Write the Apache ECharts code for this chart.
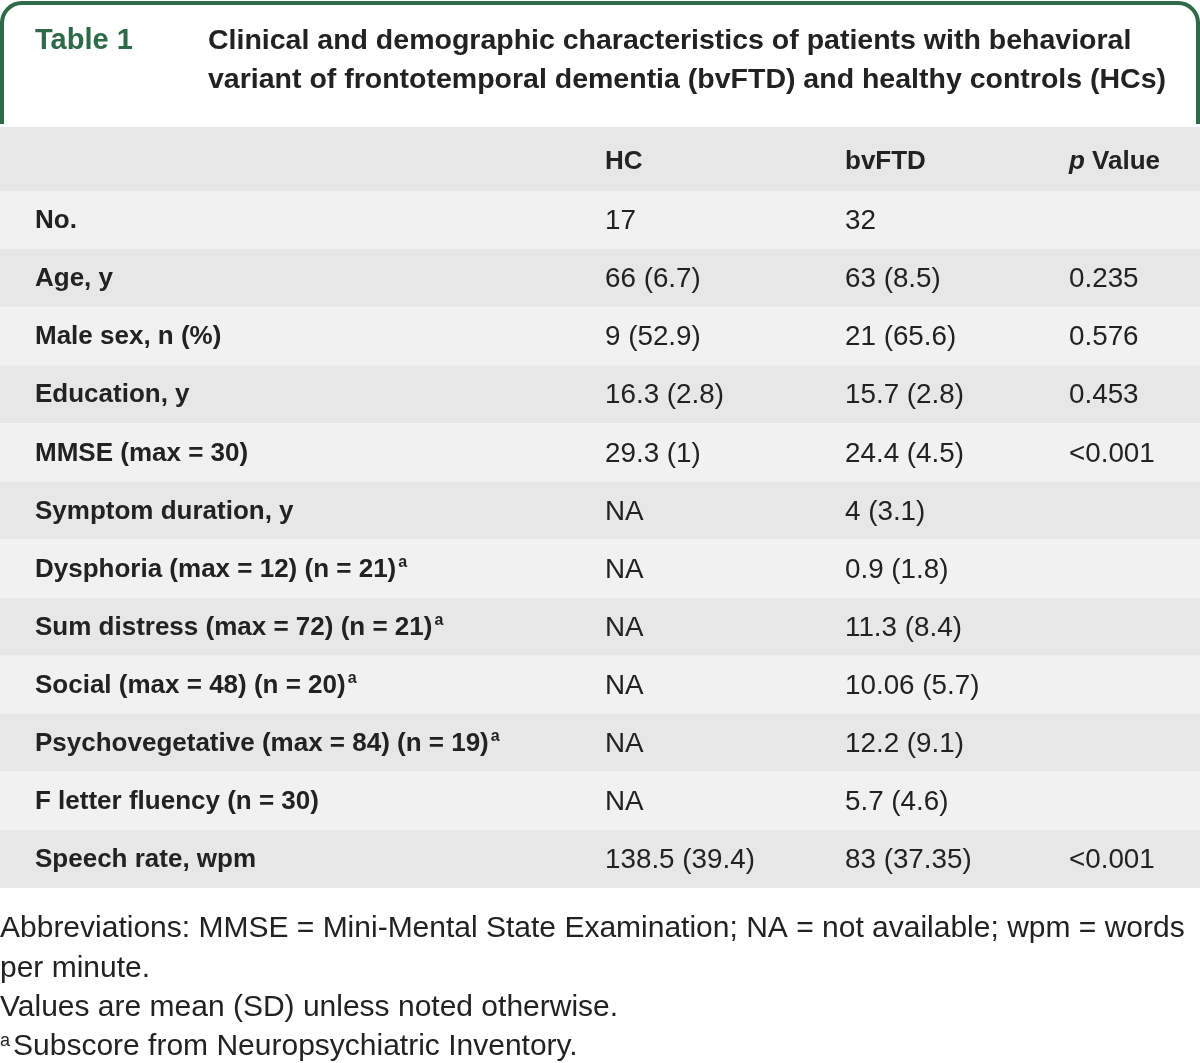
<!DOCTYPE html>
<html><head><meta charset="utf-8">
<script src="https://cdn.jsdelivr.net/npm/echarts@6/dist/echarts.min.js"></script>
<style>html,body{margin:0;padding:0;background:#fff}#chart{width:1200px;height:1063px}</style>
</head><body><div id="chart"></div>
<script>
// ---- data ----
const tableLabel = 'Table 1';
const titleLines = [
  'Clinical and demographic characteristics of patients with behavioral',
  'variant of frontotemporal dementia (bvFTD) and healthy controls (HCs)'
];
const columnHeaders = ['HC', 'bvFTD', 'p Value'];
const rowLabels = [
  'No.', 'Age, y', 'Male sex, n (%)', 'Education, y', 'MMSE (max = 30)',
  'Symptom duration, y', 'Dysphoria (max = 12) (n = 21)', 'Sum distress (max = 72) (n = 21)',
  'Social (max = 48) (n = 20)', 'Psychovegetative (max = 84) (n = 19)',
  'F letter fluency (n = 30)', 'Speech rate, wpm'
];
const rowFootnoteMarks = ['', '', '', '', '', '', 'a', 'a', 'a', 'a', '', ''];
const hcValues = ['17', '66 (6.7)', '9 (52.9)', '16.3 (2.8)', '29.3 (1)', 'NA', 'NA', 'NA', 'NA', 'NA', 'NA', '138.5 (39.4)'];
const bvftdValues = ['32', '63 (8.5)', '21 (65.6)', '15.7 (2.8)', '24.4 (4.5)', '4 (3.1)', '0.9 (1.8)', '11.3 (8.4)', '10.06 (5.7)', '12.2 (9.1)', '5.7 (4.6)', '83 (37.35)'];
const pValues = ['', '0.235', '0.576', '0.453', '<0.001', '', '', '', '', '', '', '<0.001'];
const footnoteLines = [
  'Abbreviations: MMSE = Mini-Mental State Examination; NA = not available; wpm = words',
  'per minute.',
  'Values are mean (SD) unless noted otherwise.'
];
const footnoteMark = 'a';
const footnoteMarkText = 'Subscore from Neuropsychiatric Inventory.';

// ---- layout / style ----
const FONT = '"Liberation Sans", Arial, sans-serif';
const GREEN = '#2d6a47';
const TEXT = '#222222';
const colX = [605, 845, 1069];
const valueColumns = [hcValues, bvftdValues, pValues];

const cells = [];
rowLabels.forEach((_, r) => {
  valueColumns.forEach((col, c) => {
    if (col[r] !== '') cells.push({ value: [c, r], text: col[r] });
  });
});

const chart = echarts.init(document.getElementById('chart'), null, { renderer: 'canvas' });

const graphics = [];
// border
const bw = 4;
graphics.push(
  { type: 'line', shape: { x1: 2, y1: 22, x2: 2, y2: 124 }, style: { stroke: GREEN, lineWidth: bw } },
  { type: 'line', shape: { x1: 22, y1: 3, x2: 1178, y2: 3 }, style: { stroke: GREEN, lineWidth: bw } },
  { type: 'line', shape: { x1: 1198, y1: 22, x2: 1198, y2: 124 }, style: { stroke: GREEN, lineWidth: bw } },
  { type: 'arc', shape: { cx: 22, cy: 23, r: 20, startAngle: Math.PI, endAngle: Math.PI * 1.5 }, style: { stroke: GREEN, lineWidth: bw, fill: null } },
  { type: 'arc', shape: { cx: 1178, cy: 23, r: 20, startAngle: Math.PI * 1.5, endAngle: Math.PI * 2 }, style: { stroke: GREEN, lineWidth: bw, fill: null } }
);
// title
graphics.push({ type: 'text', x: 35, y: 41, style: { text: tableLabel, fill: GREEN, font: 'bold 29px ' + FONT, verticalAlign: 'middle' } });
titleLines.forEach((t, i) => {
  graphics.push({ type: 'text', x: 208, y: 41 + i * 39, style: { text: t, fill: TEXT, font: 'bold 28.5px ' + FONT, verticalAlign: 'middle' } });
});
// header band
graphics.push({ type: 'rect', shape: { x: 0, y: 127, width: 1200, height: 64 }, style: { fill: '#e6e7e6' }, z: -1 });
columnHeaders.forEach((h, i) => {
  const txt = h.startsWith('p ') ? '{i|p}{b|' + h.slice(1) + '}' : '{b|' + h + '}';
  graphics.push({
    type: 'text', x: colX[i], y: 162,
    style: {
      text: txt, verticalAlign: 'middle', align: 'left',
      rich: {
        b: { font: 'bold 26px ' + FONT, fill: TEXT },
        i: { font: 'italic bold 26px ' + FONT, fill: TEXT }
      }
    }
  });
});
// footnotes
footnoteLines.forEach((t, i) => {
  graphics.push({ type: 'text', x: 0, y: 929 + i * 39.5, style: { text: t, fill: TEXT, font: '30px ' + FONT, verticalAlign: 'middle' } });
});
graphics.push({
  type: 'text', x: 0, y: 1047,
  style: {
    text: '{s|' + footnoteMark + '}{t|' + footnoteMarkText + '}', verticalAlign: 'middle',
    rich: {
      s: { font: '18px ' + FONT, fill: TEXT, verticalAlign: 'top', padding: [0, 3, 12, 0] },
      t: { font: '30px ' + FONT, fill: TEXT }
    }
  }
});

chart.setOption({
  animation: false,
  backgroundColor: '#ffffff',
  grid: { left: 0, right: 0, top: 191, bottom: 175 },
  xAxis: { type: 'value', min: 0, max: 1200, show: false },
  yAxis: {
    type: 'category', data: rowLabels, inverse: true,
    axisLine: { show: false }, axisTick: { show: false }, splitLine: { show: false },
    splitArea: { show: true, areaStyle: { color: ['#f1f1f1', '#e6e7e6'] } },
    axisLabel: {
      inside: true, margin: 35, align: 'left', padding: [2, 0, 0, 0],
      formatter: (v, i) => rowFootnoteMarks[i] ? '{b|' + v + '}{s|' + rowFootnoteMarks[i] + '}' : '{b|' + v + '}',
      rich: {
        b: { fontFamily: FONT, fontWeight: 'bold', fontSize: 26, color: TEXT },
        s: { fontFamily: FONT, fontWeight: 'bold', fontSize: 16, color: TEXT, verticalAlign: 'top', padding: [0, 0, 14, 2] }
      }
    }
  },
  graphic: graphics,
  series: [{
    type: 'custom',
    data: cells,
    encode: { x: 0, y: 1 },
    renderItem: (params, api) => {
      const c = api.value(0), r = api.value(1);
      const p = api.coord([colX[c], r]);
      return {
        type: 'text',
        style: { text: cells[params.dataIndex].text, x: p[0], y: p[1] + 1.5, fill: TEXT, font: '27.8px ' + FONT, verticalAlign: 'middle', align: 'left' }
      };
    }
  }]
});
</script></body></html>
